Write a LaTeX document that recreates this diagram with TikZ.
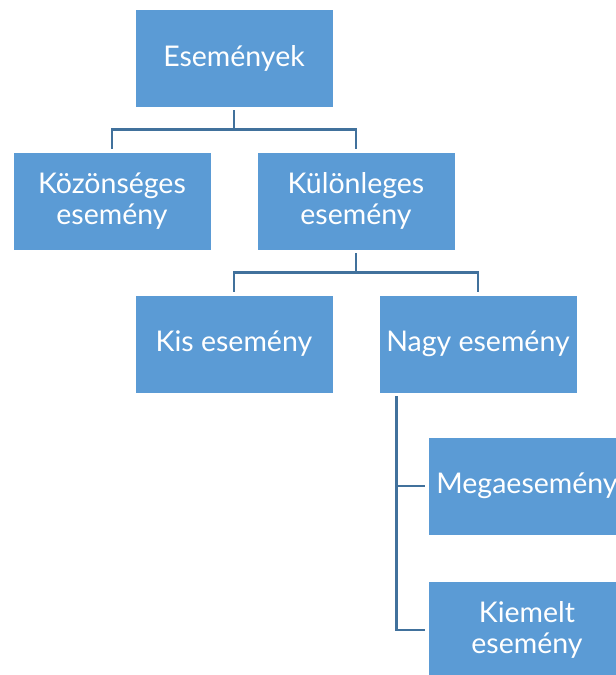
\documentclass[tikz,border=0pt]{standalone}
\usepackage{fontspec}
\setmainfont{Lato}
\usetikzlibrary{positioning}
\definecolor{boxblue}{HTML}{5B9BD5}
\definecolor{lineblue}{HTML}{41719C}
\begin{document}
\begin{tikzpicture}[x=1pt,y=1pt,on grid, align=center,
  box/.style={rectangle,fill=boxblue,draw=white,line width=0.6pt,minimum width=198pt,minimum height=98pt,
    text=white,font=\fontsize{28.5}{31}\selectfont,inner sep=0pt},
  link/.style={draw=lineblue,line width=2.6pt,shorten <=3pt,shorten >=3pt}]
  \useasboundingbox (-234,58) rectangle (382,-617);
  \node[box]   (events)                                   {Események};
  \node[box]   (common)   [below left=143 and 122 of events]   {Közönséges\\esemény};
  \node[box]   (special)  [below right=143 and 122 of events]  {Különleges\\esemény};
  \node[box]   (small)    [below left=143 and 122 of special]  {Kis esemény};
  \node[box]   (big)      [below right=143 and 122 of special] {Nagy esemény};
  \node[box]   (mega)     [below right=142 and 49 of big]      {Megaesemény};
  \node[box]   (featured) [below=144 of mega]                  {Kiemelt\\esemény};
  \draw[link] (events.south) -- ++(0,-22) -| (common.north);
  \draw[link] (events.south) -- ++(0,-22) -| (special.north);
  \draw[link] (special.south) -- ++(0,-22) -| (small.north);
  \draw[link] (special.south) -- ++(0,-22) -| (big.north);
  \draw[link] ([xshift=18pt]big.south west) |- (mega.west);
  \draw[link] ([xshift=18pt]big.south west) |- (featured.west);
\end{tikzpicture}
\end{document}
